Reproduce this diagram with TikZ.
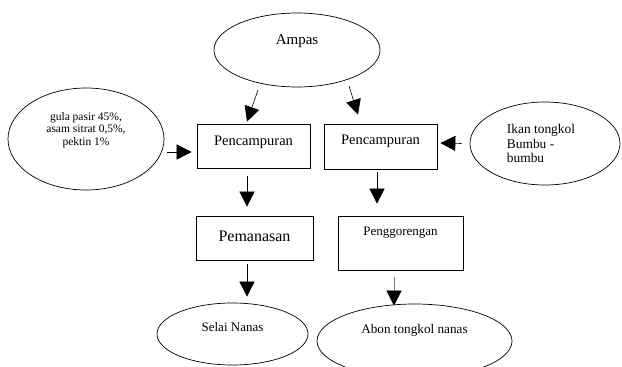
\documentclass[tikz,border=0pt]{standalone}
\usepackage{fontspec}
\setmainfont{Liberation Serif}
\usetikzlibrary{shapes.geometric,arrows.meta}
\begin{document}
\begin{tikzpicture}[x=1pt,y=-1pt,
  ell/.style={draw,ellipse,inner sep=0pt,line width=0.7pt},
  boxn/.style={draw,rectangle,inner sep=0pt,line width=0.7pt},
  arr/.style={line width=0.6pt,-{Triangle[length=15pt,width=15pt]}},
  lbl/.style={inner sep=0pt,align=center}]
\useasboundingbox (0,0) rectangle (622,367);
\clip (0,0) rectangle (622,367);
% nodes
\node[ell,minimum width=166pt,minimum height=74pt,
  label={[lbl,yshift=9pt,font=\fontsize{15}{17}\selectfont]center:Ampas}] (ampas) at (297,50) {};
\node[ell,minimum width=156pt,minimum height=102pt,
  label={[lbl,yshift=9pt,font=\fontsize{11.5}{12.5}\selectfont]center:gula pasir 45\%,\\asam sitrat 0,5\%,\\pektin 1\%}] (gula) at (86,139) {};
\node[boxn,minimum width=113pt,minimum height=44pt,
  label={[lbl,yshift=4pt,font=\fontsize{14.5}{16}\selectfont]center:Pencampuran}] (box1) at (253.5,146) {};
\node[boxn,minimum width=113pt,minimum height=45pt,
  label={[lbl,yshift=5pt,font=\fontsize{14.5}{16}\selectfont]center:Pencampuran}] (box2) at (380.5,146.5) {};
\node[ell,minimum width=150pt,minimum height=83pt,
  label={[lbl,align=left,xshift=-4pt,font=\fontsize{13.4}{14.5}\selectfont]center:Ikan tongkol\\Bumbu -\\bumbu}] (ikan) at (545,143.5) {};
\node[boxn,minimum width=117pt,minimum height=44pt,
  label={[lbl,yshift=2pt,font=\fontsize{16}{18}\selectfont]center:Pemanasan}] (pem) at (254.5,238) {};
\node[boxn,minimum width=125pt,minimum height=54pt,
  label={[lbl,yshift=10pt,font=\fontsize{13}{15}\selectfont]center:Penggorengan}] (peng) at (400.5,243) {};
\node[ell,minimum width=151pt,minimum height=62pt,
  label={[lbl,yshift=6.5pt,font=\fontsize{13}{15}\selectfont]center:Selai Nanas}] (selai) at (232.5,334) {};
\node[ell,minimum width=195pt,minimum height=74pt,
  label={[lbl,yshift=11pt,font=\fontsize{13.2}{15}\selectfont]center:Abon tongkol nanas}] (abon) at (414.5,341) {};
% connectors
\draw[arr] ([xshift=-39pt,yshift=-40pt]ampas.center) -- ([xshift=-6.5pt,yshift=2pt]box1.north);
\draw[arr] ([xshift=3pt,yshift=-13pt]gula.east) -- ([xshift=-5pt,yshift=-6pt]box1.west);
\draw[arr] ([xshift=-6.5pt,yshift=-8pt]box1.south) -- ([xshift=-7.5pt,yshift=9pt]pem.north);
\draw[arr] ([xshift=-7.5pt,yshift=-4pt]pem.south) -- ([xshift=14.5pt,yshift=6pt]selai.north);
\draw[arr] ([xshift=52pt,yshift=-36pt]ampas.center) -- ([xshift=-22.5pt,yshift=9pt]box2.north);
\draw[arr] ([xshift=-8pt]ikan.west) -- ([xshift=3pt,yshift=3.5pt]box2.east);
\draw[arr] ([xshift=-3.5pt,yshift=-3pt]box2.south) -- ([xshift=-23.5pt,yshift=12pt]peng.north);
\draw[arr,draw=gray] ([xshift=-6.5pt,yshift=-7pt]peng.south) -- ([xshift=-20.5pt,yshift=-2pt]abon.north);
\fill ([xshift=-20.5pt,yshift=-2pt]abon.north) -- ++(-7.5,-15) -- ++(15,0) -- cycle;
\end{tikzpicture}
\end{document}
